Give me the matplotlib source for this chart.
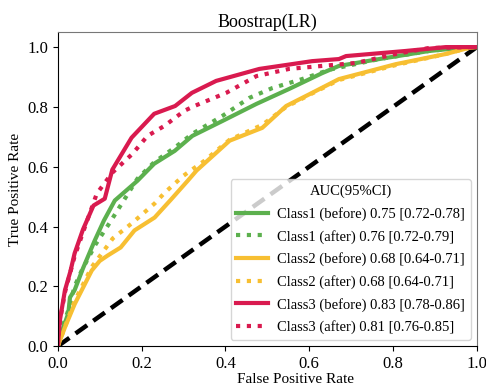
import matplotlib
matplotlib.use("Agg")
import matplotlib.pyplot as plt

plt.rcParams['font.family'] = ['Liberation Serif', 'DejaVu Serif']
plt.rcParams['font.size'] = 11

# ROC points (fpr, tpr)
c1_before_fpr = [0.0, 0.01, 0.025, 0.029, 0.04, 0.06, 0.088, 0.11, 0.136, 0.19, 0.23, 0.279, 0.321, 0.393, 0.474, 0.552, 0.631, 0.671, 0.767, 0.886, 0.98, 1.0]
c1_before_tpr = [0.0, 0.05, 0.11, 0.163, 0.187, 0.26, 0.353, 0.42, 0.487, 0.553, 0.61, 0.653, 0.703, 0.753, 0.81, 0.86, 0.913, 0.937, 0.96, 0.987, 1.0, 1.0]
c1_after_fpr = [0.0, 0.01, 0.025, 0.04, 0.057, 0.09, 0.124, 0.19, 0.23, 0.28, 0.321, 0.393, 0.457, 0.512, 0.583, 0.65, 0.767, 0.886, 0.98, 1.0]
c1_after_tpr = [0.0, 0.06, 0.12, 0.2, 0.253, 0.34, 0.413, 0.56, 0.615, 0.665, 0.71, 0.77, 0.83, 0.863, 0.893, 0.925, 0.96, 0.987, 1.0, 1.0]

c2_before_fpr = [0.0, 0.017, 0.04, 0.081, 0.1, 0.119, 0.15, 0.183, 0.231, 0.27, 0.31, 0.331, 0.41, 0.488, 0.545, 0.607, 0.671, 0.807, 0.926, 0.98, 1.0]
c2_before_tpr = [0.0, 0.063, 0.14, 0.253, 0.285, 0.303, 0.33, 0.387, 0.43, 0.49, 0.553, 0.587, 0.687, 0.73, 0.803, 0.847, 0.893, 0.943, 0.977, 0.997, 1.0]
c2_after_fpr = [0.0, 0.017, 0.04, 0.081, 0.105, 0.131, 0.176, 0.231, 0.255, 0.3, 0.35, 0.41, 0.488, 0.545, 0.607, 0.671, 0.807, 0.926, 0.98, 1.0]
c2_after_tpr = [0.0, 0.065, 0.15, 0.265, 0.31, 0.36, 0.41, 0.477, 0.513, 0.57, 0.62, 0.69, 0.74, 0.8, 0.845, 0.89, 0.94, 0.977, 0.997, 1.0]

c3_before_fpr = [0.0, 0.005, 0.017, 0.03, 0.04, 0.06, 0.085, 0.112, 0.13, 0.176, 0.23, 0.28, 0.32, 0.378, 0.481, 0.607, 0.671, 0.688, 0.83, 0.926, 1.0]
c3_before_tpr = [0.0, 0.087, 0.187, 0.25, 0.31, 0.39, 0.47, 0.493, 0.59, 0.697, 0.777, 0.803, 0.847, 0.887, 0.927, 0.953, 0.96, 0.97, 0.987, 1.0, 1.0]
c3_after_fpr = [0.0, 0.005, 0.017, 0.04, 0.07, 0.093, 0.13, 0.178, 0.214, 0.255, 0.302, 0.326, 0.402, 0.474, 0.552, 0.63, 0.712, 0.807, 0.886, 1.0]
c3_after_tpr = [0.0, 0.085, 0.18, 0.3, 0.42, 0.51, 0.58, 0.643, 0.703, 0.737, 0.787, 0.803, 0.847, 0.903, 0.927, 0.937, 0.947, 0.977, 0.997, 1.0]

labels = [
    "Class1 (before) 0.75 [0.72-0.78]",
    "Class1 (after) 0.76 [0.72-0.79]",
    "Class2 (before) 0.68 [0.64-0.71]",
    "Class2 (after) 0.68 [0.64-0.71]",
    "Class3 (before) 0.83 [0.78-0.86]",
    "Class3 (after) 0.81 [0.76-0.85]",
]

green = "#5cb04e"
yellow = "#f7bf32"
red = "#d91a4f"

fig = plt.figure(figsize=(4.86, 3.92), dpi=100)
ax = fig.add_axes([0.119, 0.117, 0.862, 0.801])

ax.plot([0, 1], [0, 1], color="black", lw=3.2, linestyle=(0, (3.2, 1.7)), zorder=1)

curves = [
    (c1_before_fpr, c1_before_tpr, green, "-"),
    (c1_after_fpr, c1_after_tpr, green, (0, (1, 1.6))),
    (c2_before_fpr, c2_before_tpr, yellow, "-"),
    (c2_after_fpr, c2_after_tpr, yellow, (0, (1, 1.6))),
    (c3_before_fpr, c3_before_tpr, red, "-"),
    (c3_after_fpr, c3_after_tpr, red, (0, (1, 1.6))),
]
for (x, y, col, ls), lab in zip(curves, labels):
    ax.plot(x, y, color=col, lw=3, linestyle=ls, label=lab, zorder=2)

ax.set_xlim(0, 1)
ax.set_ylim(0, 1.05)
ax.set_xticks([0, 0.2, 0.4, 0.6, 0.8, 1.0])
ax.set_yticks([0, 0.2, 0.4, 0.6, 0.8, 1.0])
ax.set_xlabel("False Positive Rate", fontsize=11, labelpad=1)
ax.xaxis.set_label_coords(0.567, -0.085)
ax.set_ylabel("True Positive Rate", fontsize=11, labelpad=4)
ax.set_title("Boostrap(LR)", fontsize=13, pad=4)
for side in ["top", "right"]:
    ax.spines[side].set_color("#777777")
ax.tick_params(labelsize=12)

leg = ax.legend(title="AUC(95%CI)", loc="lower right", fontsize=10.5, title_fontsize=10.5,
                handlelength=2.2, borderaxespad=0.4, labelspacing=0.6,
                handletextpad=0.6, framealpha=0.8)

fig.savefig("out.png", dpi=100)
